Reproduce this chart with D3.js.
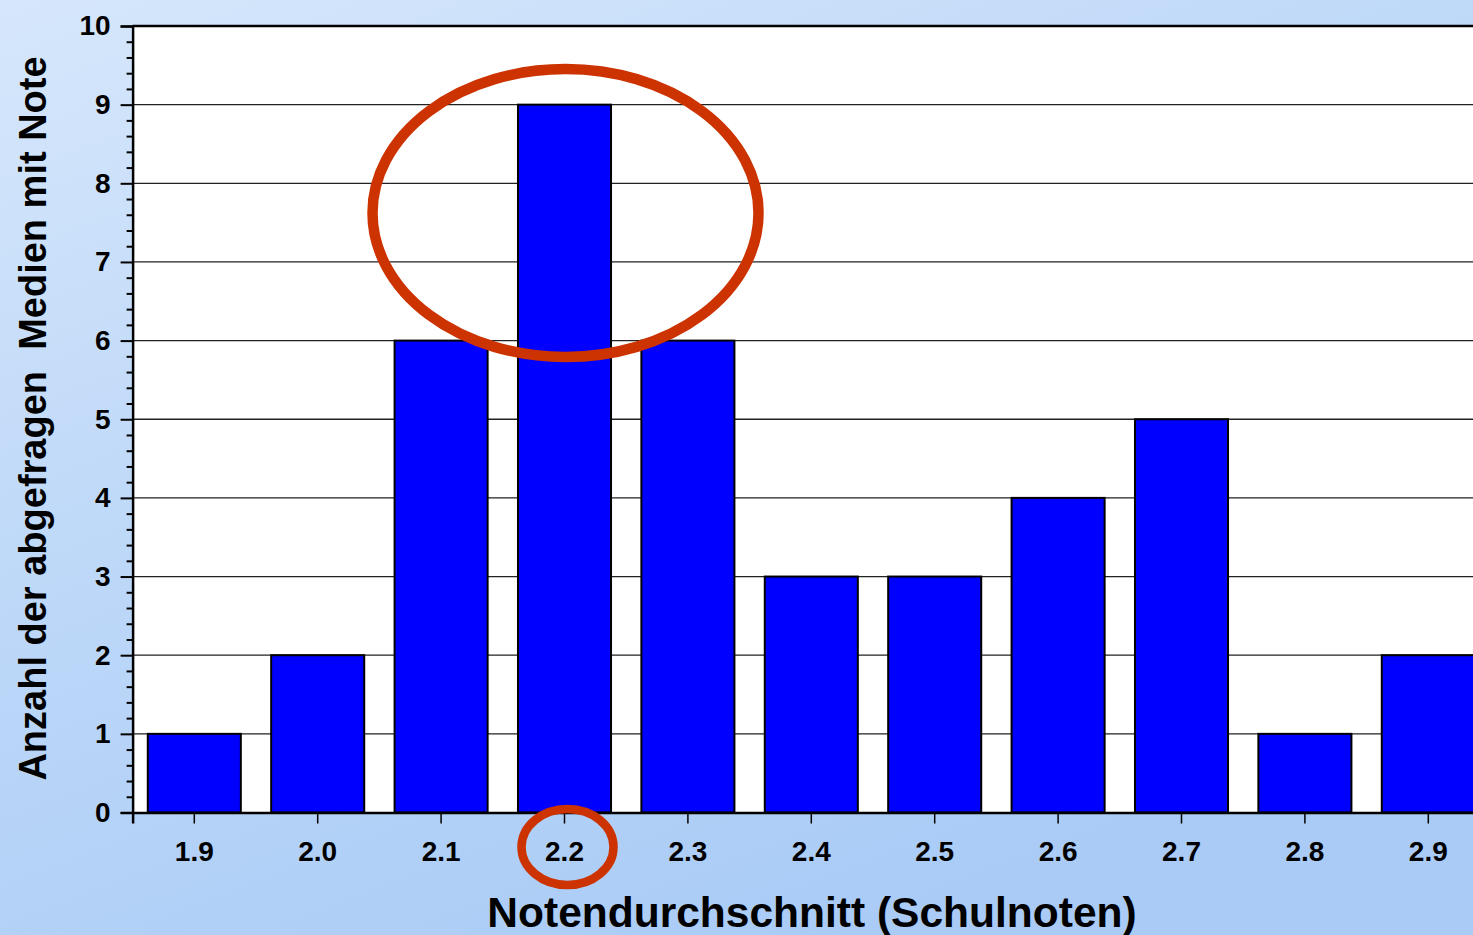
<!DOCTYPE html>
<html>
<head>
<meta charset="utf-8">
<script src="https://cdn.jsdelivr.net/npm/d3@7"></script>
<style>
html,body{margin:0;padding:0;overflow:hidden;}
svg{display:block;}
</style>
</head>
<body>
<svg id="chart" width="1473" height="935"></svg>
<script>
const categories = ["1.9","2.0","2.1","2.2","2.3","2.4","2.5","2.6","2.7","2.8","2.9"];
const counts = [1,2,6,9,6,3,3,4,5,1,2];
const yTicks = [0,1,2,3,4,5,6,7,8,9,10];
const xTitle = "Notendurchschnitt (Schulnoten)";
const yTitle = "Anzahl der abgefragen\u00a0\u00a0Medien mit Note";
const highlight = "2.2";

(function(){
const W = 1473, H = 935;
const svg = d3.select("#chart");
const pL = 132.6, pT = 26, pB = 812.5, pR = 1490;

// background
const defs = svg.append("defs");
const g1 = defs.append("linearGradient").attr("id","bg").attr("x1","0").attr("y1","0").attr("x2","0.6").attr("y2","1");
g1.append("stop").attr("offset","0").attr("stop-color","#d6e7fb");
g1.append("stop").attr("offset","0.5").attr("stop-color","#bcd7f8");
g1.append("stop").attr("offset","1").attr("stop-color","#a9cbf6");
svg.append("rect").attr("width",W).attr("height",H).attr("fill","url(#bg)");

const x = d3.scaleBand().domain(categories).range([pL, pR]).paddingInner(0.246).paddingOuter(0.123);
const y = d3.scaleLinear().domain([0,10]).range([pB, pT]);

// plot area
svg.append("rect").attr("x",pL).attr("y",pT).attr("width",pR-pL).attr("height",pB-pT).attr("fill","#fff");

// gridlines
svg.append("g").selectAll("line").data(yTicks.filter(d=>d>0 && d<10)).join("line")
  .attr("x1",pL).attr("x2",pR).attr("y1",d=>y(d)).attr("y2",d=>y(d))
  .attr("stroke","#222").attr("stroke-width",1.3);

// bars
svg.append("g").selectAll("rect").data(categories).join("rect")
  .attr("x",d=>x(d)).attr("width",x.bandwidth())
  .attr("y",(d,i)=>y(counts[i])).attr("height",(d,i)=>y(0)-y(counts[i]))
  .attr("fill","#0000ff").attr("stroke","#000").attr("stroke-width",2);

// top border
svg.append("line").attr("x1",pL).attr("x2",pR).attr("y1",pT).attr("y2",pT).attr("stroke","#000").attr("stroke-width",2.5);

const font = "'Liberation Sans', Arial, sans-serif";
// y axis
const yAxis = d3.axisLeft(y).tickValues(yTicks).tickSize(12).tickPadding(10).tickFormat(d3.format("d"));
const ya = svg.append("g").attr("transform",`translate(${pL},0)`).call(yAxis);
ya.select(".domain").attr("stroke","#000").attr("stroke-width",2.5);
ya.selectAll(".tick line").attr("stroke","#000").attr("stroke-width",2);
ya.selectAll(".tick text").attr("font-family",font).attr("font-weight","bold").attr("font-size",28).attr("fill","#000");
const minor = d3.range(0,10.001,0.2).filter(v=>Math.abs(v-Math.round(v))>1e-6);
const yMinor = d3.axisLeft(y).tickValues(minor).tickSize(6).tickFormat("");
const ym = svg.append("g").attr("transform",`translate(${pL},0)`).call(yMinor);
ym.select(".domain").remove();
ym.selectAll(".tick line").attr("stroke","#000").attr("stroke-width",2);

// x axis
const xAxis = d3.axisBottom(x).tickSize(11).tickPadding(18);
const xa = svg.append("g").attr("transform",`translate(0,${pB})`).call(xAxis);
xa.select(".domain").attr("stroke","#000").attr("stroke-width",2.5);
xa.selectAll(".tick line").attr("stroke","#000").attr("stroke-width",1.5);
xa.selectAll(".tick text").attr("font-family",font).attr("font-weight","bold").attr("font-size",28).attr("fill","#000");

// axis titles
svg.append("text").attr("x",812).attr("y",927).attr("text-anchor","middle")
  .attr("font-family",font).attr("font-weight","bold").attr("font-size",42.5).attr("fill","#000")
  .text(xTitle);
svg.append("text").attr("transform","translate(46,418.5) rotate(-90)").attr("text-anchor","middle")
  .attr("font-family",font).attr("font-weight","bold").attr("font-size",38).attr("fill","#000")
  .text(yTitle);

// red highlight ellipses
const cx = x(highlight) + x.bandwidth()/2;
svg.append("ellipse").attr("cx",cx+1).attr("cy",213).attr("rx",193).attr("ry",144)
  .attr("fill","none").attr("stroke","#cc3300").attr("stroke-width",10.5);
svg.append("ellipse").attr("cx",cx+3).attr("cy",847).attr("rx",46).attr("ry",38)
  .attr("fill","none").attr("stroke","#cc3300").attr("stroke-width",8.5);
})();
</script>
</body>
</html>
